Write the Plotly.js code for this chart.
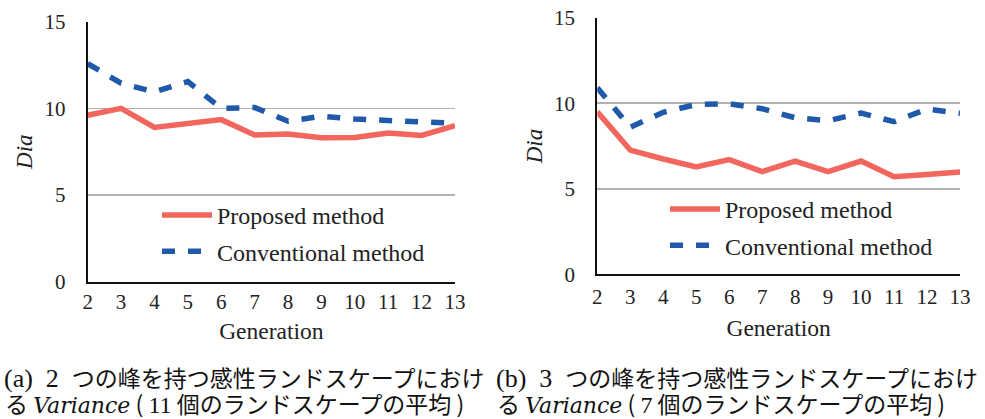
<!DOCTYPE html>
<html>
<head>
<meta charset="utf-8">
<script src="https://cdn.plot.ly/plotly-3.0.1.min.js"></script>
<style>html,body{margin:0;padding:0;background:#fff}#chart{width:985px;height:419px}</style>
</head>
<body>
<div id="chart"></div>
<script>
// Generation (x categories)
const generations = [2, 3, 4, 5, 6, 7, 8, 9, 10, 11, 12, 13];
// (a) 2 peaks
const proposedA = [9.6, 10.0, 8.9, 9.12, 9.35, 8.46, 8.52, 8.3, 8.32, 8.58, 8.44, 9.0];
const conventionalA = [12.58, 11.45, 10.95, 11.54, 10.0, 10.05, 9.26, 9.55, 9.38, 9.29, 9.16, 9.14];
// (b) 3 peaks
const proposedB = [9.5, 7.26, 6.74, 6.27, 6.7, 6.0, 6.62, 6.0, 6.62, 5.71, 5.84, 5.98];
const conventionalB = [10.9, 8.6, 9.47, 9.93, 9.97, 9.68, 9.15, 8.98, 9.42, 8.92, 9.66, 9.41];
const yTicks = [0, 5, 10, 15];
const seriesNames = ['Proposed method', 'Conventional method'];
const captionA1 = ['(a)', '2', 'つの峰を持つ感性ランドスケープにおけ'];
const captionB1 = ['(b)', '3', 'つの峰を持つ感性ランドスケープにおけ'];
const captionA2 = ['る', 'Variance', '(', '11', '個のランドスケープの平均', ')'];
const captionB2 = ['る', 'Variance', '(', '7', '個のランドスケープの平均', ')'];

const RED = '#F2665E';
const BLUE = '#2059AA';
const SERIF = 'Liberation Serif';
const MATH = 'DejaVu Serif';
const JP = 'Noto Sans CJK JP';
const NB = '\u00A0';

function line(x, y, name, color, dash, xa, ya, legend, group) {
  return {
    x: x, y: y, name: name, type: 'scatter', mode: 'lines',
    xaxis: xa, yaxis: ya, legend: legend, legendgroup: group,
    line: {color: color, width: 5.5, dash: dash},
    hoverinfo: 'skip'
  };
}

const traces = [
  line(generations, proposedA, seriesNames[0], RED, 'solid', 'x', 'y', 'legend', 'a1'),
  line(generations, conventionalA, seriesNames[1], BLUE, '13px,13px', 'x', 'y', 'legend', 'a2'),
  line(generations, proposedB, seriesNames[0], RED, 'solid', 'x2', 'y2', 'legend2', 'b1'),
  line(generations, conventionalB, seriesNames[1], BLUE, '13px,13px', 'x2', 'y2', 'legend2', 'b2')
];

function xax(domain, anchor, stand, tstand) {
  return {
    domain: domain, anchor: anchor, range: [2, 13],
    tickvals: generations, ticktext: generations.map(String),
    showgrid: false, zeroline: false, showline: true, linecolor: '#111', linewidth: 2,
    ticks: '', ticklabelstandoff: stand,
    tickfont: {family: SERIF, size: 21, color: '#222'},
    title: {text: 'Generation', font: {family: SERIF, size: 23.5, color: '#222'}, standoff: tstand},
    fixedrange: true
  };
}
function yax(domain, anchor) {
  return {
    domain: domain, anchor: anchor, range: [0, 15],
    tickvals: yTicks, ticktext: yTicks.map(String),
    showgrid: true, gridcolor: '#B0B0B0', gridwidth: 1.5,
    zeroline: false, showline: true, linecolor: '#111', linewidth: 2,
    ticks: '', ticklabelstandoff: 16,
    tickfont: {family: SERIF, size: 21, color: '#222'},
    title: {text: '<i>Dia</i>', font: {family: SERIF, size: 23, color: '#222'}, standoff: 5},
    fixedrange: true
  };
}

function caption1(x, y, parts) {
  return {
    xref: 'paper', yref: 'paper', x: x, y: y, xanchor: 'left', yanchor: 'middle',
    showarrow: false, align: 'left',
    text: '<span style="font-family:' + SERIF + ';font-size:26px">' + parts[0] + NB + ' ' + parts[1] + NB + ' </span>' + parts[2],
    font: {family: JP, size: 23, color: '#111'}
  };
}
function caption2(x, y, parts) {
  return {
    xref: 'paper', yref: 'paper', x: x, y: y, xanchor: 'left', yanchor: 'middle',
    showarrow: false, align: 'left',
    text: parts[0] + ' <span style="font-family:' + MATH + ';font-size:22px"><i>' + parts[1] + '</i></span>' +
          NB + parts[2] + ' ' +
          '<span style="font-family:' + SERIF + ';font-size:24px">' + parts[3] + '</span> ' +
          parts[4] + ' ' + parts[5],
    font: {family: JP, size: 23, color: '#111'}
  };
}

const W = 985, H = 419;
const legendFont = {family: SERIF, size: 24, color: '#222'};
const layout = {
  width: W, height: H,
  margin: {l: 0, r: 0, t: 0, b: 0},
  paper_bgcolor: '#fff', plot_bgcolor: '#fff',
  xaxis: xax([87.7 / W, 455 / W], 'y', 0, 10),
  yaxis: yax([1 - 281.7 / H, 1 - 21.7 / H], 'x'),
  xaxis2: xax([597.3 / W, 960 / W], 'y2', 2, 12),
  yaxis2: yax([1 - 274.3 / H, 1 - 17.7 / H], 'x2'),
  legend: {
    x: 157 / W, y: 1 - 193 / H, xanchor: 'left', yanchor: 'top',
    bgcolor: 'rgba(0,0,0,0)', tracegroupgap: 2, itemwidth: 50,
    font: legendFont
  },
  legend2: {
    x: 665 / W, y: 1 - 187 / H, xanchor: 'left', yanchor: 'top',
    bgcolor: 'rgba(0,0,0,0)', tracegroupgap: 2, itemwidth: 50,
    font: legendFont
  },
  showlegend: true,
  annotations: [
    caption1(2 / W, 1 - 377 / H, captionA1),
    caption2(3 / W, 1 - 403 / H, captionA2),
    caption1(494 / W, 1 - 377 / H, captionB1),
    caption2(495 / W, 1 - 403 / H, captionB2)
  ]
};

Plotly.newPlot('chart', traces, layout, {displayModeBar: false, staticPlot: true});
</script>
</body>
</html>
